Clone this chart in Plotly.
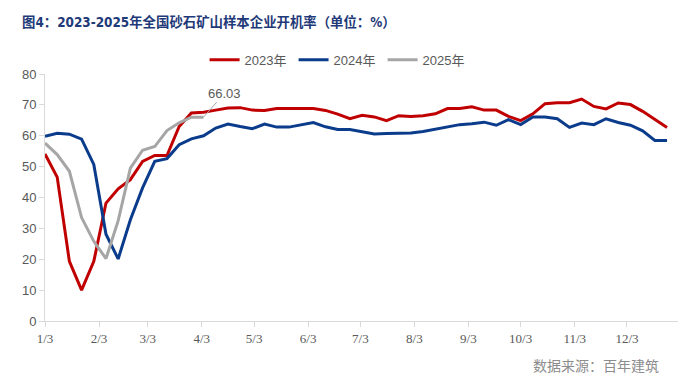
import pandas as pd
import plotly.graph_objects as go

start_date = "2023-01-03"
vals_2023 = [54.1, 46.6, 19.3, 10.0, 19.3, 38.2, 42.8, 45.8, 51.7, 53.6, 53.6, 63.0, 67.4,
             67.6, 68.3, 69.0, 69.1, 68.3, 68.2, 68.8, 68.8, 68.8, 68.8, 68.2, 67.0, 65.5,
             66.6, 66.1, 64.9, 66.5, 66.2, 66.5, 67.1, 68.8, 68.8, 69.4, 68.3, 68.3, 66.3,
             64.9, 67.1, 70.4, 70.7, 70.7, 71.9, 69.5, 68.7, 70.6, 70.1, 67.9, 65.2, 62.7]
vals_2024 = [59.8, 60.8, 60.5, 58.9, 50.7, 28.1, 20.1, 32.8, 43.1, 51.7, 52.6, 57.1, 59.0,
             60.0, 62.5, 63.8, 63.0, 62.3, 63.8, 62.8, 62.8, 63.6, 64.3, 62.9, 62.0, 62.0,
             61.2, 60.6, 60.7, 60.8, 60.9, 61.4, 62.2, 62.8, 63.6, 63.9, 64.4, 63.4, 65.2,
             63.6, 66.1, 66.1, 65.5, 62.7, 64.1, 63.6, 65.5, 64.3, 63.4, 61.6, 58.5, 58.5]
vals_2025 = [57.6, 53.9, 48.5, 33.5, 25.8, 20.2, 32.5, 49.5, 55.3, 56.5, 61.7, 64.2, 66.0, 66.03]
series_names = ["2023年", "2024年", "2025年"]
series_colors = ["#C00000", "#0B3C8C", "#A6A6A6"]
tick_labels = ["1/3", "2/3", "3/3", "4/3", "5/3", "6/3", "7/3", "8/3", "9/3", "10/3", "11/3", "12/3"]
tick_dates = [f"2023-{m:02d}-03" for m in range(1, 13)]
title_text = "图4：2023-2025年全国砂石矿山样本企业开机率（单位：%）"
source_text = "数据来源：百年建筑"

dates = pd.date_range(start_date, periods=52, freq="7D")

fig = go.Figure()
for name, vals, col in zip(series_names, [vals_2023, vals_2024, vals_2025], series_colors):
    fig.add_trace(go.Scatter(x=dates[:len(vals)], y=vals, mode="lines", name=name,
                             line=dict(color=col, width=3)))

last_x = dates[len(vals_2025) - 1]
fig.add_annotation(x=last_x, y=vals_2025[-1], text=f"{vals_2025[-1]:.2f}",
                   showarrow=True, arrowhead=0, arrowwidth=1, arrowcolor="#A6A6A6",
                   ax=21, ay=-24, standoff=0,
                   font=dict(family="Liberation Sans, Noto Sans", size=13, color="#595959"))

fig.add_annotation(xref="paper", yref="paper", x=(661 - 45) / 633, y=(321 - 365) / 247,
                   xanchor="right", yanchor="middle", text=source_text, showarrow=False,
                   font=dict(family="Noto Sans CJK SC", size=14, color="#8C8C8C"))

fig.update_layout(
    width=692, height=390,
    margin=dict(l=45, r=14, t=74, b=69, autoexpand=False),
    paper_bgcolor="white", plot_bgcolor="white",
    title=dict(text=title_text, x=22 / 692, xanchor="left", y=1 - 22 / 390, yanchor="middle",
               font=dict(family="DejaVu Sans Condensed, Noto Sans CJK SC", size=13.4,
                         color="#1F3A78", weight="bold")),
    legend=dict(orientation="h", x=0.463, xanchor="center", y=1.057, yanchor="middle",
                entrywidth=44, entrywidthmode="pixels",
                font=dict(family="Liberation Sans, Noto Sans CJK SC", size=13, color="#595959"),
                bgcolor="rgba(0,0,0,0)"),
    showlegend=True,
)
fig.update_xaxes(type="date", range=["2023-01-03", "2024-01-01 07:00"],
                 tickvals=tick_dates, ticktext=tick_labels, automargin=False,
                 showline=True, linecolor="#D9D9D9", linewidth=1,
                 ticks="outside", ticklen=5, tickcolor="#D9D9D9", showgrid=False, zeroline=False,
                 tickfont=dict(family="Liberation Serif", size=13, color="#595959"))
fig.update_yaxes(range=[0, 80], dtick=10, tick0=0, automargin=False,
                 showline=True, linecolor="#D9D9D9", linewidth=1,
                 ticks="outside", ticklen=5, tickcolor="#D9D9D9", showgrid=False, zeroline=False,
                 tickfont=dict(family="Liberation Sans", size=13, color="#595959"))

fig.write_html("out.html", config={"displayModeBar": False},
               post_script="document.body.style.margin='0px';")
